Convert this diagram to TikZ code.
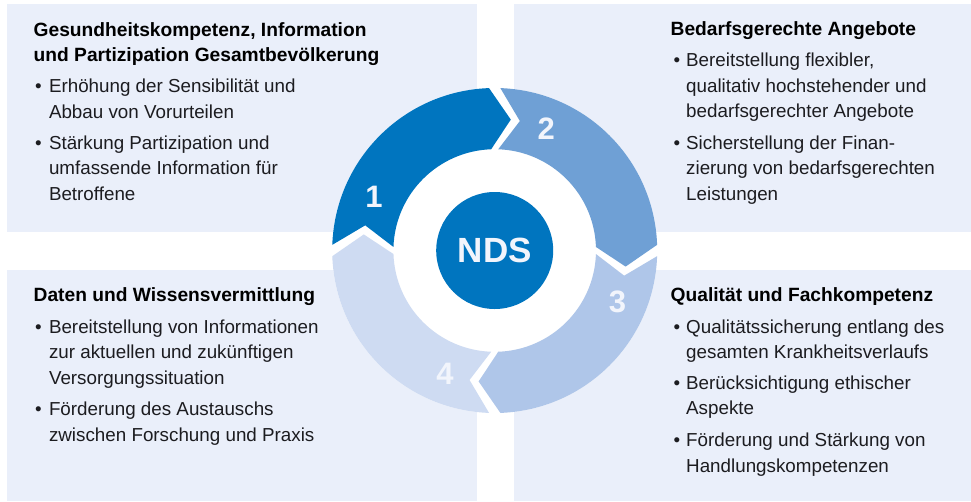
\documentclass[tikz,border=0pt]{standalone}
\usepackage{fontspec}
\setmainfont{Liberation Sans}
\definecolor{panel}{RGB}{234,239,250}
\definecolor{segA}{RGB}{0,117,191}
\definecolor{segB}{RGB}{111,160,213}
\definecolor{segC}{RGB}{175,198,233}
\definecolor{segD}{RGB}{206,219,242}
\definecolor{txt}{RGB}{28,28,32}
\definecolor{numc}{RGB}{242,245,252}
\def\Ro{162.5}
\def\Ri{101.3}
\def\Rm{131.9}
\newcommand{\ringseg}[3]{%
  \fill[#1] (#2:\Ro) arc[start angle=#2, end angle=#3, radius=\Ro]
    -- ({#3-9}:\Rm) -- (#3:\Ri)
    arc[start angle=#3, end angle=#2, radius=\Ri]
    -- ({#2-9}:\Rm) -- cycle;}
\newcommand{\mlines}[1]{\parbox[t]{420pt}{\raggedright #1}}
\tikzset{
  panelbox/.style={fill=panel, draw=none},
  ttl/.style={anchor=base west, inner sep=0pt, text=black,
    font=\fontsize{19.2}{25.5}\selectfont\bfseries},
  itm/.style={anchor=base west, inner sep=0pt, text=txt,
    font=\fontsize{18.8}{25.5}\selectfont},
  bul/.style={anchor=base west, inner sep=0pt, text=txt,
    font=\fontsize{18.8}{25.5}\selectfont},
  num/.style={inner sep=0pt, text=numc,
    font=\fontsize{31}{31}\selectfont\bfseries},
}
\begin{document}
\begin{tikzpicture}[x=1pt, y=-1pt]
\useasboundingbox (0,0) rectangle (971,501);
% panels
\fill[panelbox] (7,4) rectangle (477,232);
\fill[panelbox] (514,4) rectangle (971,232);
\fill[panelbox] (7,270) rectangle (477,501);
\fill[panelbox] (514,270) rectangle (971,501);

% top left
\node[ttl] (t1) at (33.5,36) {\mlines{Gesundheitskompetenz, Information\\und Partizipation Gesamtbevölkerung}};
\node[bul] (b11) at (35,92.7) {•};
\node[itm] (i11) at (48.8,92.7) {\mlines{Erhöhung der Sensibilität und\\Abbau von Vorurteilen}};
\node[bul] (b12) at (35,149) {•};
\node[itm] (i12) at (48.8,149) {\mlines{Stärkung Partizipation und\\umfassende Information für\\Betroffene}};

% top right
\node[ttl] (t2) at (670.5,35) {Bedarfsgerechte Angebote};
\node[bul] (b21) at (673.5,66.7) {•};
\node[itm] (i21) at (686,66.7) {\mlines{Bereitstellung flexibler,\\qualitativ hochstehender und\\bedarfsgerechter Angebote}};
\node[bul] (b22) at (673.5,149) {•};
\node[itm] (i22) at (686,149) {\mlines{Sicherstellung der Finan-\\zierung von bedarfsgerechten\\Leistungen}};

% bottom left
\node[ttl] (t3) at (33.5,301.7) {Daten und Wissensvermittlung};
\node[bul] (b31) at (35,333.3) {•};
\node[itm] (i31) at (48.8,333.3) {\mlines{Bereitstellung von Informationen\\zur aktuellen und zukünftigen\\Versorgungssituation}};
\node[bul] (b32) at (35,415.7) {•};
\node[itm] (i32) at (48.8,415.7) {\mlines{Förderung des Austauschs\\zwischen Forschung und Praxis}};

% bottom right
\node[ttl] (t4) at (670.5,301.7) {Qualität und Fachkompetenz};
\node[bul] (b41) at (673.5,333.3) {•};
\node[itm] (i41) at (686,333.3) {\mlines{Qualitätssicherung entlang des\\gesamten Krankheitsverlaufs}};
\node[bul] (b42) at (673.5,389.3) {•};
\node[itm] (i42) at (686,389.3) {\mlines{Berücksichtigung ethischer\\Aspekte}};
\node[bul] (b43) at (673.5,446.7) {•};
\node[itm] (i43) at (686,446.7) {\mlines{Förderung und Stärkung von\\Handlungskompetenzen}};

% ring
\begin{scope}[shift={(494.7,250.5)}, y=1pt]
  \fill[white] (0,0) circle[radius=\Ro];
  \ringseg{segA}{178}{92}
  \ringseg{segB}{88}{2}
  \ringseg{segC}{-2}{-88}
  \ringseg{segD}{-92}{-178}
  \node[num] (n1) at (156:132) {1};
  \node[num] (n2) at (67:132) {2};
  \node[num] (n3) at (-22.5:133) {3};
  \node[num] (n4) at (-112:133) {4};
  \node[circle, fill=segA, minimum size=117pt, inner sep=0pt, text=numc,
    font=\fontsize{35}{35}\selectfont\bfseries] (nds) at (0,0) {NDS};
\end{scope}
\end{tikzpicture}
\end{document}
